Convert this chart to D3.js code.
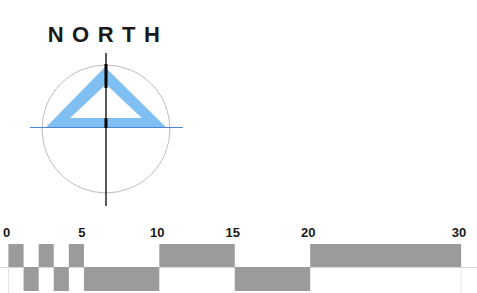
<!DOCTYPE html>
<head>
    <title>North arrow and scale bar</title>
    <script src="https://d3js.org/d3.v7.min.js"></script>
</head>
<style>
body { margin: 0; background: #fff; font-family: "Liberation Sans", Arial, sans-serif; }
</style>
<body>
    <svg></svg>
</body>
<script>
    // scale bar segments, in map units
    var topSegments = [[0, 1], [2, 3], [4, 5], [10, 15], [20, 30]];
    var bottomSegments = [[1, 2], [3, 4], [5, 10], [15, 20]];
    var tickLabels = [0, 5, 10, 15, 20, 30];
    var title = "NORTH";

    var width = 477, height = 293;
    var svg = d3.select('svg').attr('width', width).attr('height', height);

    // ---- compass ----
    var cx = 106, cy = 129, r = 64;
    var c = svg.append('g').attr('transform', 'translate(' + cx + ',' + cy + ')');

    svg.append('text')
        .attr('x', 108).attr('y', 42)
        .attr('text-anchor', 'middle')
        .style('font-size', '22px').style('font-weight', 'bold')
        .style('letter-spacing', '8.5px')
        .style('fill', '#1a1a1a')
        .text(title);

    c.append('circle').attr('r', r)
        .style('fill', 'none').style('stroke', '#bcbcbc').style('stroke-width', 1);

    // triangle: outer blue, inner white hole
    var line = d3.line();
    c.append('path')
        .attr('d', line([[-1, -r + 2], [-r * 0.95, -1], [r * 0.95, -1]]) + 'Z')
        .style('fill', '#80bff2');
    c.append('path')
        .attr('d', line([[0, -r * 0.7], [-r * 0.56, -11], [r * 0.56, -11]]) + 'Z')
        .style('fill', '#fff');

    c.append('line')
        .attr('x1', -76).attr('x2', 77).attr('y1', -1.5).attr('y2', -1.5)
        .style('stroke', '#4f86cf').style('stroke-width', 1);

    c.append('line')
        .attr('x1', 0).attr('x2', 0).attr('y1', -76).attr('y2', 77)
        .style('stroke', '#000').style('stroke-width', 1.3);
    c.append('line')
        .attr('x1', 0).attr('x2', 0).attr('y1', -65).attr('y2', -41)
        .style('stroke', '#000').style('stroke-width', 3);
    c.append('line')
        .attr('x1', 0).attr('x2', 0).attr('y1', -11).attr('y2', -1)
        .style('stroke', '#000').style('stroke-width', 3);

    // ---- scale bar ----
    var x = d3.scaleLinear().domain([0, 30]).range([8.5, 461]);
    var yTop = 244, yMid = 267, yBot = 291;

    svg.append('line')
        .attr('x1', 0).attr('x2', width).attr('y1', yMid + 0.5).attr('y2', yMid + 0.5)
        .style('stroke', '#d6d6d6');
    svg.selectAll('.edge')
        .data(d3.extent(tickLabels))
        .enter().append('line').attr('class', 'edge')
        .attr('x1', function (d) { return x(d); }).attr('x2', function (d) { return x(d); })
        .attr('y1', yTop).attr('y2', height)
        .style('stroke', '#e4e4e4');

    svg.selectAll('.top')
        .data(topSegments)
        .enter().append('rect').attr('class', 'top')
        .attr('x', function (d) { return x(d[0]); })
        .attr('width', function (d) { return x(d[1]) - x(d[0]); })
        .attr('y', yTop).attr('height', yMid - yTop)
        .style('fill', '#9b9b9b');

    svg.selectAll('.bottom')
        .data(bottomSegments)
        .enter().append('rect').attr('class', 'bottom')
        .attr('x', function (d) { return x(d[0]); })
        .attr('width', function (d) { return x(d[1]) - x(d[0]); })
        .attr('y', yMid).attr('height', yBot - yMid)
        .style('fill', '#9b9b9b');

    svg.selectAll('.tick')
        .data(tickLabels)
        .enter().append('text').attr('class', 'tick')
        .attr('x', function (d) { return x(d) - 2; })
        .attr('y', 237)
        .attr('text-anchor', 'middle')
        .style('font-size', '13px').style('font-weight', 'bold')
        .style('fill', '#1a1a1a')
        .text(function (d) { return d; });
</script>
